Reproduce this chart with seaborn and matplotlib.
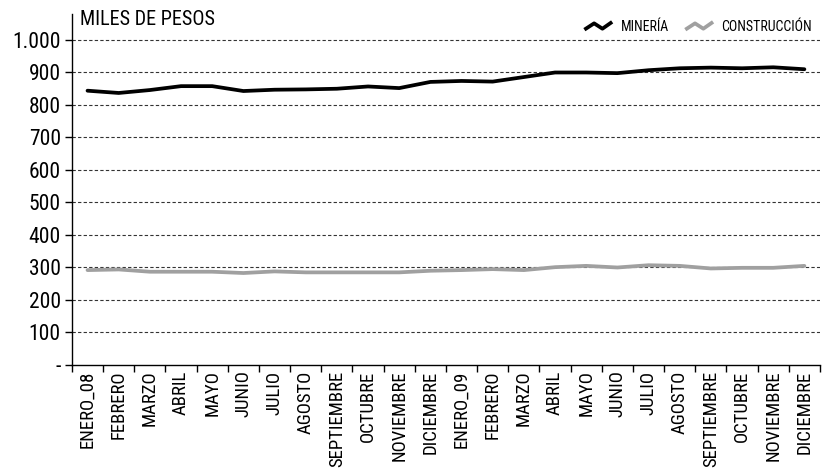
import matplotlib
matplotlib.use("Agg")
import matplotlib.pyplot as plt
import seaborn as sns
import pandas as pd
import numpy as np
from matplotlib.legend_handler import HandlerLine2D
from matplotlib.lines import Line2D
from matplotlib import font_manager

meses = ["ENERO_08", "FEBRERO", "MARZO", "ABRIL", "MAYO", "JUNIO", "JULIO", "AGOSTO",
         "SEPTIEMBRE", "OCTUBRE", "NOVIEMBRE", "DICIEMBRE", "ENERO_09", "FEBRERO", "MARZO",
         "ABRIL", "MAYO", "JUNIO", "JULIO", "AGOSTO", "SEPTIEMBRE", "OCTUBRE",
         "NOVIEMBRE", "DICIEMBRE"]
mineria = [844, 837, 846, 858, 858, 843, 847, 848, 850, 857, 852, 871,
           874, 872, 886, 900, 900, 898, 907, 913, 915, 913, 916, 910]
construccion = [292, 294, 287, 287, 287, 283, 288, 285, 285, 285, 285, 290,
                292, 295, 292, 301, 305, 300, 307, 305, 297, 299, 299, 305]
yticks = [0, 100, 200, 300, 400, 500, 600, 700, 800, 900, 1000]
ylabels = ["-", "100", "200", "300", "400", "500", "600", "700", "800", "900", "1.000"]

sns.set_theme(style="white")
names = {f.name for f in font_manager.fontManager.ttflist}
cands = ["Roboto Condensed", "Liberation Sans Narrow", "Open Sans Condensed", "Roboto"]
first = next((c for c in cands if c in names), "DejaVu Sans")
FAM = [first, "DejaVu Sans"]
plt.rcParams["font.family"] = FAM
plt.rcParams["text.color"] = "black"
plt.rcParams["xtick.color"] = "black"
plt.rcParams["ytick.color"] = "black"

df = pd.DataFrame({
    "valor": mineria + construccion,
    "serie": ["MINERÍA"] * len(meses) + ["CONSTRUCCIÓN"] * len(meses),
})
df["pos"] = list(range(len(meses))) * 2

fig = plt.figure(figsize=(8.27, 4.76), dpi=100)
ax = fig.add_axes([0.087, 0.2332, 0.9045, 0.7374])

colors = {"MINERÍA": "#000000", "CONSTRUCCIÓN": "#a0a0a0"}
sns.lineplot(data=df, x="pos", y="valor", hue="serie", palette=colors,
             linewidth=2.7, ax=ax, legend=False, sort=False)

ax.set_xlim(-0.5, len(meses) - 0.5)
ax.set_ylim(0, 1080)
ax.set_yticks(yticks)
ax.set_yticklabels(ylabels, fontsize=15.5)
ax.set_xticks(range(len(meses)))
ax.set_xticklabels(meses, rotation=90, fontsize=13.5)
ax.set_xticks(np.arange(-0.5, len(meses), 1), minor=True)
ax.tick_params(axis="x", which="major", length=0, pad=4)
ax.tick_params(axis="x", which="minor", length=5, width=1, color="black", direction="out", bottom=True)
ax.tick_params(axis="y", length=5, width=1, color="black", direction="out", left=True, pad=3)
for t in yticks[1:]:
    ax.axhline(t, color="#333333", linestyle=(0, (3, 2)), linewidth=0.8, zorder=0)
ax.set_xlabel("")
ax.set_ylabel("")
for s in ["top", "right"]:
    ax.spines[s].set_visible(False)
for s in ["left", "bottom"]:
    ax.spines[s].set_color("black")
    ax.spines[s].set_linewidth(1.0)

fig.text(0.097, 0.958, "MILES DE PESOS", fontsize=14.5, va="center", ha="left")


class ZigHandler(HandlerLine2D):
    def create_artists(self, legend, orig_handle, xdescent, ydescent, width, height, fontsize, trans):
        xs = np.array([0, 0.35, 0.65, 1.0]) * width - xdescent
        ys = np.array([0.1, 0.75, 0.2, 0.9]) * height - ydescent
        ln = Line2D(xs, ys, color=orig_handle.get_color(), linewidth=orig_handle.get_linewidth(),
                    transform=trans, solid_capstyle="butt")
        return [ln]


handles = [Line2D([], [], color="#000000", linewidth=2.7),
           Line2D([], [], color="#a0a0a0", linewidth=2.7)]
leg = fig.legend(handles, ["MINERÍA", "CONSTRUCCIÓN"], loc="upper right",
                 bbox_to_anchor=(0.997, 0.985), ncol=2, frameon=False, fontsize=10,
                 handler_map={Line2D: ZigHandler()}, handlelength=2.0, handletextpad=0.6,
                 columnspacing=1.2)

fig.savefig("out.png", dpi=100)
